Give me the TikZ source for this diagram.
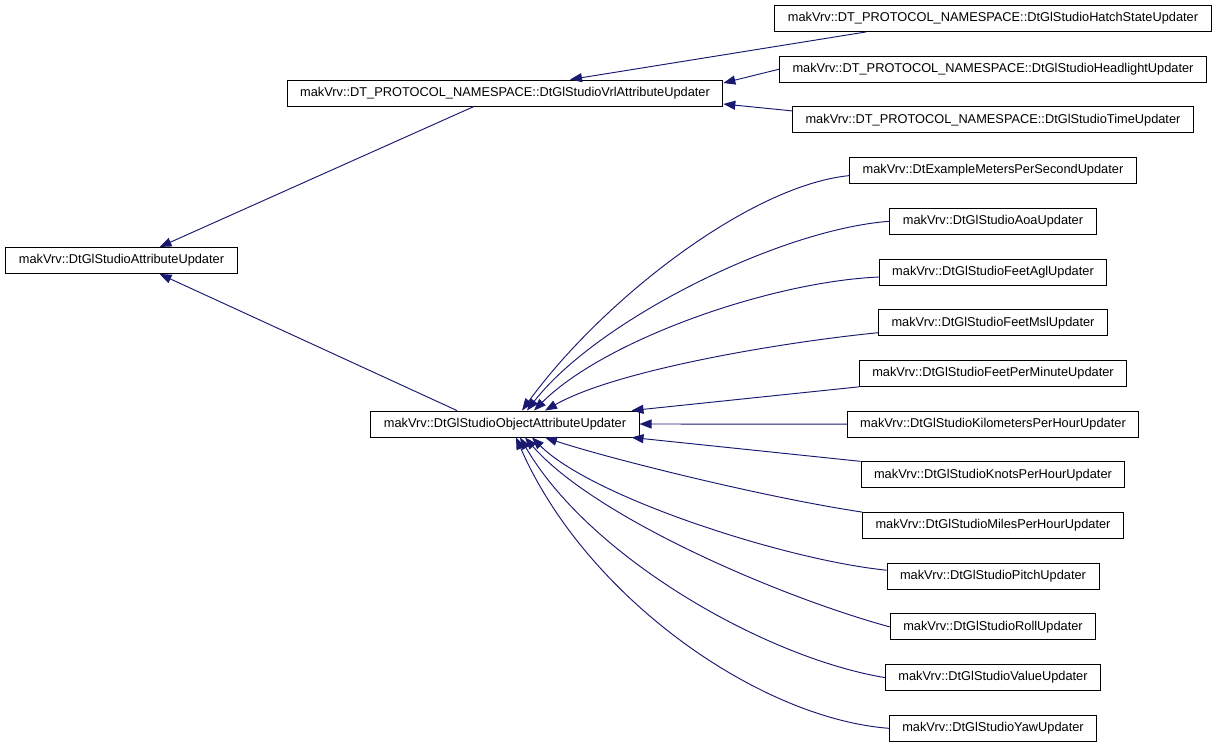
\documentclass[tikz,border=0pt]{standalone}
\usepackage{fontspec}
\setmainfont{Liberation Sans}
\usetikzlibrary{positioning,arrows.meta}
\definecolor{edgeblue}{HTML}{191970}

\begin{document}
\begin{tikzpicture}[x=1pt, y=-1pt, node distance=23.8pt, every node/.style={font=\fontsize{12.8}{15}\selectfont}]
    % Define styles
    \tikzstyle{cls}=[rectangle,draw=black,line width=0.9pt,fill=white,minimum height=26pt,inner xsep=13pt,inner ysep=0pt]
    \tikzstyle{line}=[draw=edgeblue,line width=0.95pt,-{Triangle[length=12pt,width=9pt]}]

    \useasboundingbox (0,0) rectangle (1219,747);

    % Base classes
    \node [cls] (base) at (121.5,260.5) {makVrv::DtGlStudioAttributeUpdater};
    \node [cls] (vrl) at (505,93) {makVrv::DT\_PROTOCOL\_NAMESPACE::DtGlStudioVrlAttributeUpdater};
    \node [cls] (obj) at (505,424) {makVrv::DtGlStudioObjectAttributeUpdater};

    % Vrl updaters
    \node [cls] (hatch) at (993,18.5) {makVrv::DT\_PROTOCOL\_NAMESPACE::DtGlStudioHatchStateUpdater};
    \node [cls, below=of hatch] (headlight) {makVrv::DT\_PROTOCOL\_NAMESPACE::DtGlStudioHeadlightUpdater};
    \node [cls, below=of headlight] (timeupd) {makVrv::DT\_PROTOCOL\_NAMESPACE::DtGlStudioTimeUpdater};

    % Object updaters
    \node [cls, below=of timeupd] (msps) {makVrv::DtExampleMetersPerSecondUpdater};
    \node [cls, below=of msps] (aoa) {makVrv::DtGlStudioAoaUpdater};
    \node [cls, below=of aoa] (feetagl) {makVrv::DtGlStudioFeetAglUpdater};
    \node [cls, below=of feetagl] (feetmsl) {makVrv::DtGlStudioFeetMslUpdater};
    \node [cls, below=of feetmsl] (fpm) {makVrv::DtGlStudioFeetPerMinuteUpdater};
    \node [cls, below=of fpm] (kmh) {makVrv::DtGlStudioKilometersPerHourUpdater};
    \node [cls, below=of kmh] (knots) {makVrv::DtGlStudioKnotsPerHourUpdater};
    \node [cls, below=of knots] (mph) {makVrv::DtGlStudioMilesPerHourUpdater};
    \node [cls, below=of mph] (pitch) {makVrv::DtGlStudioPitchUpdater};
    \node [cls, below=of pitch] (roll) {makVrv::DtGlStudioRollUpdater};
    \node [cls, below=of roll] (value) {makVrv::DtGlStudioValueUpdater};
    \node [cls, below=of value] (yaw) {makVrv::DtGlStudioYawUpdater};

    % Define connections
    \path [line] ([xshift=-31pt]vrl.south) -- ([xshift=38pt]base.north);
    \path [line] ([xshift=-48pt]obj.north) -- ([xshift=38pt]base.south);
    \path [line] ([xshift=-127pt]hatch.south) -- ([xshift=65pt]vrl.north);
    \path [line] (headlight.west) -- ([yshift=10pt]vrl.east);
    \path [line] ([yshift=9pt]timeupd.west) -- ([yshift=-11pt]vrl.east);

    \path [line] ([yshift=-5pt]msps.west) .. controls +(-100,10) and +(80,-110) .. ([xshift=17pt]obj.north);
    \path [line] (aoa.west) .. controls +(-110,8) and +(70,-90) .. ([xshift=22pt]obj.north);
    \path [line] ([yshift=-5pt]feetagl.west) .. controls +(-110,5) and +(70,-70) .. ([xshift=29pt]obj.north);
    \path [line] ([yshift=-10pt]feetmsl.west) .. controls +(-100,10) and +(70,-40) .. ([xshift=40pt]obj.north);
    \path [line] (fpm.south west) -- ([xshift=-8pt]obj.north east);
    \path [line] (kmh.west) -- (obj.east);
    \path [line] (knots.north west) -- ([xshift=-8pt]obj.south east);
    \path [line] (mph.north west) .. controls +(-100,-15) and +(60,20) .. ([xshift=40pt]obj.south);
    \path [line] ([yshift=6pt]pitch.west) .. controls +(-100,-10) and +(60,60) .. ([xshift=27pt]obj.south);
    \path [line] (roll.west) .. controls +(-110,-30) and +(70,80) .. ([xshift=20pt]obj.south);
    \path [line] (value.west) .. controls +(-120,-20) and +(70,120) .. ([xshift=15pt]obj.south);
    \path [line] (yaw.west) .. controls +(-130,-10) and +(70,160) .. ([xshift=11pt]obj.south);
\end{tikzpicture}
\end{document}
